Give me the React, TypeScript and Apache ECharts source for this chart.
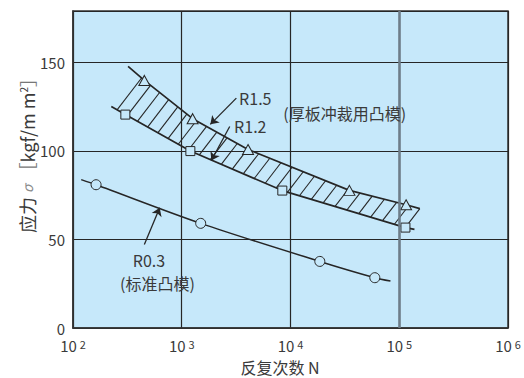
import React, { useEffect, useRef } from 'react';
import * as echarts from 'echarts';

// ---- data ----
// R1.5 upper boundary of the hatched band (triangles)
const r15N = [321, 453, 1259, 4070, 34800, 115600, 154600];
const r15S = [147.7, 139.8, 118.2, 100.8, 77.7, 69.6, 67.4];
const r15Marked = [false, true, true, true, true, true, false];
// R1.2 lower boundary of the hatched band (squares)
const r12N = [225, 303, 1200, 8410, 114000, 138000];
const r12S = [125.1, 120.5, 99.9, 77.6, 56.7, 55.7];
const r12Marked = [false, true, true, true, true, false];
// R0.3 standard punch (circles)
const r03N = [119, 163, 1493, 18600, 59600, 83000];
const r03S = [83.8, 80.9, 59.1, 37.6, 28.4, 26.5];
const r03Marked = [false, true, true, true, true, false];

const yTicks = [0, 50, 100, 150];
const xExponents = [2, 3, 4, 5, 6];
const highlightedN = 1e5;

// arrows: [tailN, tailS, headN, headS]
const arrowR03 = [453, 47.1, 627, 67.9];
const arrowR15 = [3177, 129.8, 1832, 115.0];
const arrowR12 = [2761, 113.8, 1871, 94.6];

const BG = '#c6e8fa';
const INK = '#262626';
const TXT = '#3a3a3a';
const FONT = '"Noto Sans CJK SC", "Noto Sans", sans-serif';

function build(n: number[], s: number[], marked: boolean[]) {
  return n.map((v, i) => (marked[i] ? { value: [v, s[i]] } : { value: [v, s[i]], symbol: 'none' }));
}

export default function App() {
  const ref = useRef<HTMLDivElement>(null);
  useEffect(() => {
    if (!ref.current) return;
    const chart = echarts.init(ref.current, undefined, { renderer: 'svg' });
    const k = 1.3; // hatch slope in screen space
    const dc = 19; // hatch spacing (in y + k*x units)

    const hit = (poly: number[][], c: number) => {
      for (let i = 0; i < poly.length - 1; i++) {
        const p = poly[i], q = poly[i + 1];
        const fp = p[1] + k * p[0] - c;
        const fq = q[1] + k * q[0] - c;
        if (fp === fq) continue;
        if (fp * fq <= 0) {
          const t = fp / (fp - fq);
          return [p[0] + t * (q[0] - p[0]), p[1] + t * (q[1] - p[1])];
        }
      }
      return null;
    };

    const mkArrow = (a: number[]) => [
      { coord: [a[0], a[1]], symbol: 'none' },
      { coord: [a[2], a[3]], symbol: 'arrow' },
    ];

    const option: any = {
      animation: false,
      backgroundColor: '#ffffff',
      textStyle: { fontFamily: FONT },
      grid: {
        left: 73, right: 16, top: 11, bottom: 50,
        show: true, backgroundColor: BG, borderColor: '#333', borderWidth: 1.5,
      },
      xAxis: {
        type: 'log', logBase: 10, min: 100, max: 1e6,
        axisLine: { show: true, lineStyle: { color: '#333', width: 1.5 } },
        axisTick: { show: false },
        splitLine: { show: true, lineStyle: { color: INK, width: 1.2 } },
        axisLabel: {
          margin: 10,
          formatter: (v: number) => {
            const e = Math.round(Math.log10(v));
            return xExponents.includes(e) ? `{b|10}{s|${e}}` : '';
          },
          rich: {
            b: { fontSize: 15, color: TXT, fontFamily: FONT, lineHeight: 15 },
            s: { fontSize: 11, color: TXT, fontFamily: FONT, verticalAlign: 'top', lineHeight: 10, padding: [0, 0, 0, 3] },
          },
        },
      },
      yAxis: {
        type: 'value', min: 0, max: 179, interval: 50,
        axisLine: { show: true, lineStyle: { color: '#333', width: 1.5 } },
        axisTick: { show: false },
        splitLine: { show: true, lineStyle: { color: INK, width: 1.2 } },
        axisLabel: {
          margin: 8, fontSize: 15, lineHeight: 12, color: TXT, fontFamily: FONT, showMaxLabel: false,
          formatter: (v: number) => (yTicks.includes(v) ? String(v) : ''),
        },
      },
      series: [
        {
          type: 'custom',
          z: 1,
          silent: true,
          data: [[1000, 100]],
          renderItem: (_p: any, api: any) => {
            const up = r15N.map((n, i) => api.coord([n, r15S[i]]));
            const lo = r12N.map((n, i) => api.coord([n, r12S[i]]));
            const children: any[] = [];
            const all = up.concat(lo).map((p: number[]) => p[1] + k * p[0]);
            const cMin = Math.min(...all), cMax = Math.max(...all);
            const c0 = 585;
            const mStart = Math.ceil((cMin - c0) / dc);
            const mEnd = Math.floor((cMax - c0) / dc);
            for (let m = mStart; m <= mEnd; m++) {
              const c = c0 + m * dc;
              const a = hit(lo, c), b = hit(up, c);
              if (a && b) {
                children.push({ type: 'line', shape: { x1: a[0], y1: a[1], x2: b[0], y2: b[1] }, style: { stroke: INK, lineWidth: 1.1 } });
              }
            }
            // closing edge at the right end
            const last = up[up.length - 1];
            const ce = hit(lo, last[1] + k * last[0]);
            if (ce) children.push({ type: 'line', shape: { x1: last[0], y1: last[1], x2: ce[0], y2: ce[1] }, style: { stroke: INK, lineWidth: 1.1 } });
            return { type: 'group', children };
          },
        },
        {
          name: 'R1.5', type: 'line', z: 3,
          data: build(r15N, r15S, r15Marked),
          symbol: 'triangle', symbolSize: [11, 10], showSymbol: true,
          lineStyle: { color: INK, width: 1.7 },
          itemStyle: { color: BG, borderColor: INK, borderWidth: 1 },
        },
        {
          name: 'R1.2', type: 'line', z: 3,
          data: build(r12N, r12S, r12Marked),
          symbol: 'rect', symbolSize: 9, showSymbol: true,
          lineStyle: { color: INK, width: 1.7 },
          itemStyle: { color: BG, borderColor: INK, borderWidth: 1 },
          markLine: {
            silent: true, animation: false,
            symbol: ['none', 'none'],
            label: { show: false },
            lineStyle: { color: '#6e7d89', width: 2.5, type: 'solid' },
            data: [{ xAxis: highlightedN }],
          },
        },
        {
          name: 'R0.3', type: 'line', z: 3, smooth: 0.3,
          data: build(r03N, r03S, r03Marked),
          symbol: 'circle', symbolSize: 10, showSymbol: true,
          lineStyle: { color: INK, width: 1.5 },
          itemStyle: { color: BG, borderColor: INK, borderWidth: 1 },
          markLine: {
            silent: true, animation: false,
            symbol: ['none', 'arrow'], symbolSize: 8,
            label: { show: false },
            lineStyle: { color: INK, width: 1.3, type: 'solid' },
            data: [mkArrow(arrowR03), mkArrow(arrowR15), mkArrow(arrowR12)],
          },
        },
      ],
      graphic: [
        {
          type: 'text', x: 27, y: 151, rotation: Math.PI / 2,
          style: {
            text: '应力 {s|σ} {br|［}kgf/m m{sup|2}{br|］}',
            fill: TXT, fontSize: 18, fontFamily: FONT, align: 'center', verticalAlign: 'middle',
            rich: {
              s: { fontSize: 14, fill: '#8a8a8a', fontStyle: 'italic', fontFamily: FONT },
              br: { fontSize: 18, fill: '#777', fontFamily: FONT },
              sup: { fontSize: 10, fill: TXT, verticalAlign: 'top', fontFamily: FONT },
            },
          },
        },
        { type: 'text', x: 280, y: 367, style: { text: '反复次数 N', fill: TXT, fontSize: 16, fontFamily: FONT, align: 'center', verticalAlign: 'middle' } },
        { type: 'text', x: 149, y: 260, z: 10, style: { text: 'R0.3', fill: TXT, fontSize: 16, fontFamily: FONT, align: 'center', verticalAlign: 'middle' } },
        { type: 'text', x: 157.5, y: 283, z: 10, style: { text: '(标准凸模)', fill: TXT, fontSize: 16, fontFamily: FONT, align: 'center', verticalAlign: 'middle' } },
        { type: 'text', x: 255.3, y: 98, z: 10, style: { text: 'R1.5', fill: TXT, fontSize: 16, fontFamily: FONT, align: 'center', verticalAlign: 'middle' } },
        { type: 'text', x: 250.3, y: 126, z: 10, style: { text: 'R1.2', fill: TXT, fontSize: 16, fontFamily: FONT, align: 'center', verticalAlign: 'middle' } },
        { type: 'text', x: 344.7, y: 112.5, z: 10, style: { text: '(厚板冲裁用凸模)', fill: TXT, fontSize: 16, fontFamily: FONT, align: 'center', verticalAlign: 'middle' } },
      ],
    };
    chart.setOption(option);
    return () => chart.dispose();
  }, []);
  return <div ref={ref} style={{ position: 'fixed', left: 0, top: 0, width: 524, height: 378 }} />;
}
